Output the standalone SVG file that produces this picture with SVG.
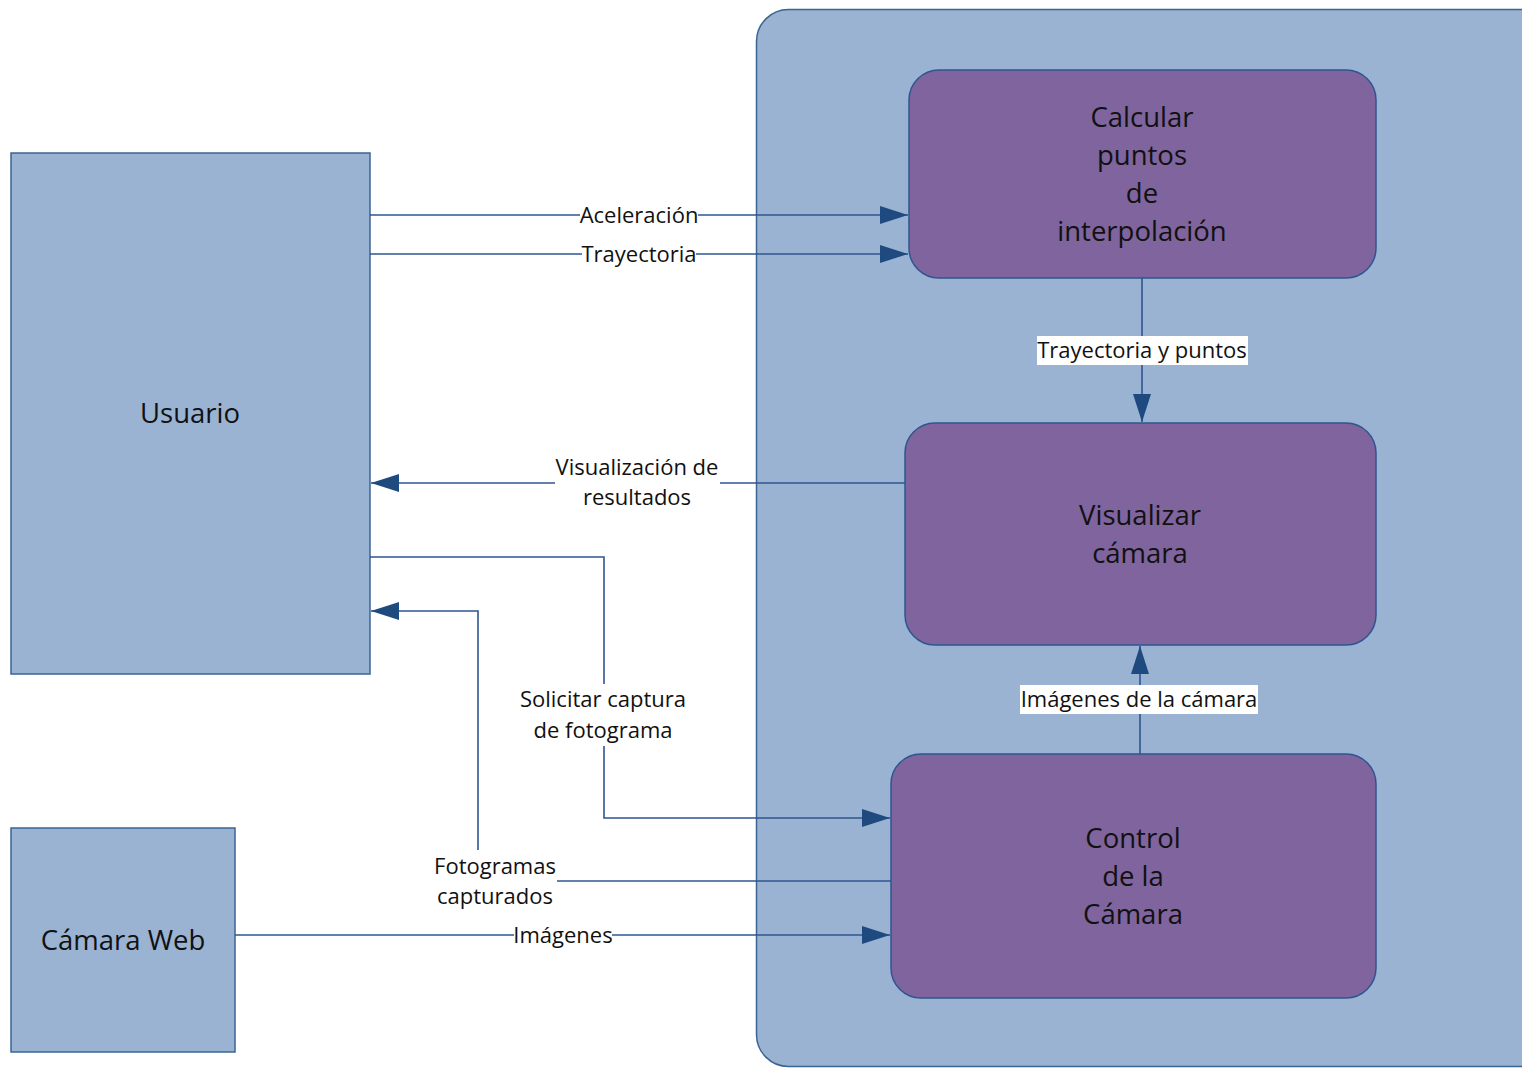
<svg xmlns="http://www.w3.org/2000/svg" width="1522" height="1068" viewBox="0 0 1522 1068">
<style>
.ext{fill:#9ab3d3;stroke:#3a6494;stroke-width:1.5}
.proc{fill:#7f649d;stroke:#2f5590;stroke-width:1.5}
.cont{fill:#9ab3d3;stroke:#3a6494;stroke-width:1.5}
.nt{font-family:"Open Sans",sans-serif;font-size:27.5px;fill:#111;text-anchor:middle}
.lt{font-family:"Open Sans",sans-serif;font-size:22px;fill:#111;text-anchor:middle}
.ln{fill:none;stroke:#2f5590;stroke-width:1.6}
.bg{fill:#fff}
</style>
<defs>
<marker id="arr" markerUnits="userSpaceOnUse" markerWidth="28" markerHeight="20" refX="28" refY="10" orient="auto">
<path d="M0,1 L28,10 L0,19 Z" fill="#1f4a7f"/>
</marker>
</defs>
<g id="sistema">
<rect class="cont" x="756.5" y="9.5" width="800" height="1057" rx="32" ry="32"/>
</g>
<g id="usuario">
<rect class="ext" x="11" y="153" width="359" height="521"/>
<text class="nt" x="190" y="423">Usuario</text>
</g>
<g id="camara-web">
<rect class="ext" x="11" y="828" width="224" height="224"/>
<text class="nt" x="123" y="950">Cámara Web</text>
</g>
<g id="calcular">
<rect class="proc" x="909" y="70" width="467" height="208" rx="30" ry="30"/>
<text class="nt" x="1142" y="127">Calcular</text>
<text class="nt" x="1142" y="165">puntos</text>
<text class="nt" x="1142" y="203">de</text>
<text class="nt" x="1142" y="241">interpolación</text>
</g>
<g id="visualizar">
<rect class="proc" x="905" y="423" width="471" height="222" rx="30" ry="30"/>
<text class="nt" x="1140" y="525">Visualizar</text>
<text class="nt" x="1140" y="563">cámara</text>
</g>
<g id="control">
<rect class="proc" x="891" y="754" width="485" height="244" rx="30" ry="30"/>
<text class="nt" x="1133" y="848">Control</text>
<text class="nt" x="1133" y="886">de la</text>
<text class="nt" x="1133" y="924">Cámara</text>
</g>
<g id="conectores">
<path class="ln" d="M370,215 H580"/>
<path class="ln" d="M698,215 H908" marker-end="url(#arr)"/>
<text class="lt" x="639" y="223">Aceleración</text>
<path class="ln" d="M370,254 H582"/>
<path class="ln" d="M696,254 H908" marker-end="url(#arr)"/>
<text class="lt" x="639" y="262">Trayectoria</text>
<path class="ln" d="M1142,278 V422" marker-end="url(#arr)"/>
<rect class="bg" x="1037" y="336" width="211" height="29"/>
<text class="lt" x="1142" y="358">Trayectoria y puntos</text>
<path class="ln" d="M905,483 H720"/>
<path class="ln" d="M555,483 H371" marker-end="url(#arr)"/>
<text class="lt" x="637" y="475">Visualización de</text>
<text class="lt" x="637" y="505">resultados</text>
<path class="ln" d="M370,557 H604 V684"/>
<path class="ln" d="M604,746 V818 H890" marker-end="url(#arr)"/>
<text class="lt" x="603" y="707">Solicitar captura</text>
<text class="lt" x="603" y="738">de fotograma</text>
<path class="ln" d="M891,881 H557"/>
<path class="ln" d="M478,850 V611 H371" marker-end="url(#arr)"/>
<text class="lt" x="495" y="874">Fotogramas</text>
<text class="lt" x="495" y="904">capturados</text>
<path class="ln" d="M235,935 H514"/>
<path class="ln" d="M612,935 H890" marker-end="url(#arr)"/>
<text class="lt" x="563" y="943">Imágenes</text>
<path class="ln" d="M1140,754 V646" marker-end="url(#arr)"/>
<rect class="bg" x="1020" y="685" width="238" height="29"/>
<text class="lt" x="1139" y="707">Imágenes de la cámara</text>
</g>
</svg>
